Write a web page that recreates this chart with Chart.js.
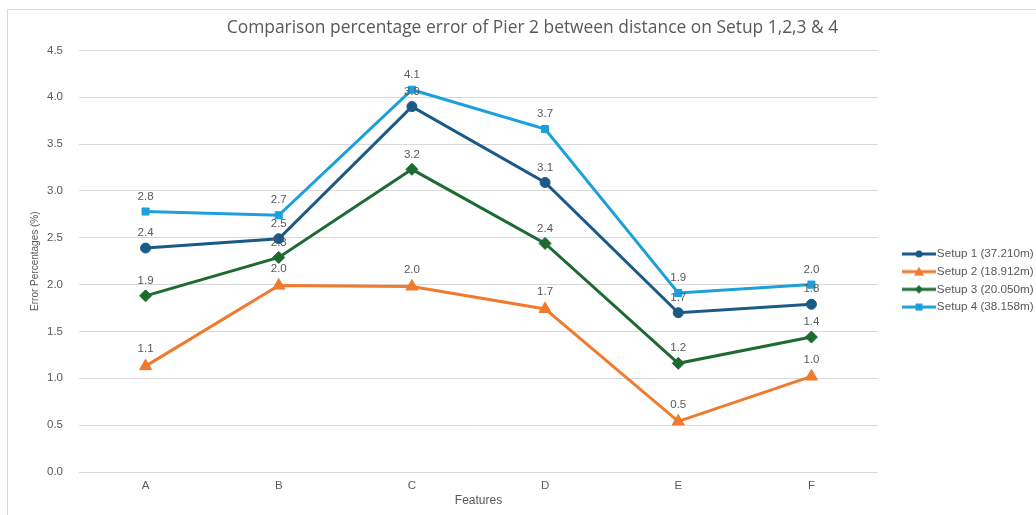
<!DOCTYPE html>
<html>
<head>
<meta charset="utf-8">
<script src="https://cdn.jsdelivr.net/npm/chart.js@4.4.1/dist/chart.umd.min.js"></script>
<style>
  html, body { margin: 0; padding: 0; background: #fff; }
  #wrap { position: absolute; left: 0; top: 0; width: 1036px; height: 515px; }
  #frame { position: absolute; left: 7px; top: 9px; width: 1040px; height: 520px; border: 1px solid #d9d9d9; box-sizing: border-box; }
</style>
</head>
<body>
<div id="wrap">
  <div id="frame"></div>
  <canvas id="myChart" width="1036" height="515"></canvas>
</div>
<script>
const features = ['A', 'B', 'C', 'D', 'E', 'F'];

const setupNames = ['Setup 1 (37.210m)', 'Setup 2 (18.912m)', 'Setup 3 (20.050m)', 'Setup 4 (38.158m)'];

const setup1 = [2.39, 2.49, 3.90, 3.09, 1.70, 1.79];
const setup2 = [1.13, 1.99, 1.98, 1.74, 0.54, 1.02];
const setup3 = [1.88, 2.29, 3.23, 2.44, 1.16, 1.44];
const setup4 = [2.78, 2.74, 4.08, 3.66, 1.91, 2.00];

const yTicks = [0, 0.5, 1, 1.5, 2, 2.5, 3, 3.5, 4, 4.5];

const colors = ['#1b5a86', '#f07a2e', '#1e6b32', '#1ba0dc'];
const markers = ['circle', 'triangle', 'rectRot', 'rect'];
const markerSizes = [5, 7, 6, 5];

const FONT = '"Liberation Sans", Arial, sans-serif';


// legend symbol: line with the marker on it (left part of the canvas is empty on purpose)
function legendSymbol(color, style, size) {
    const c = document.createElement('canvas');
    c.width = 59;
    c.height = 14;
    const g = c.getContext('2d');
    g.strokeStyle = color;
    g.fillStyle = color;
    g.lineWidth = 3;
    g.beginPath();
    g.moveTo(24, 7);
    g.lineTo(58, 7);
    g.stroke();
    const cx = 41;
    const r = size * 0.7;
    g.beginPath();
    if (style === 'circle') {
        g.arc(cx, 7, r, 0, Math.PI * 2);
    } else if (style === 'triangle') {
        g.moveTo(cx, 7 - r);
        g.lineTo(cx + r, 7 + r * 0.8);
        g.lineTo(cx - r, 7 + r * 0.8);
        g.closePath();
    } else if (style === 'rectRot') {
        g.moveTo(cx, 7 - r);
        g.lineTo(cx + r, 7);
        g.lineTo(cx, 7 + r);
        g.lineTo(cx - r, 7);
        g.closePath();
    } else {
        g.rect(cx - r, 7 - r, r * 2, r * 2);
    }
    g.fill();
    return c;
}

// value labels above each point
const valueLabels = {
    id: 'valueLabels',
    afterDatasetsDraw(chart) {
        const ctx = chart.ctx;
        ctx.save();
        ctx.font = '11.5px ' + FONT;
        ctx.fillStyle = '#595959';
        ctx.textAlign = 'center';
        ctx.textBaseline = 'middle';
        chart.data.datasets.forEach((ds, i) => {
            const meta = chart.getDatasetMeta(i);
            const lift = ds.pointStyle === 'triangle' ? 17 : 15;
            meta.data.forEach((pt, j) => {
                ctx.fillText(ds.data[j].toFixed(1), pt.x, pt.y - lift);
            });
        });
        ctx.restore();
    }
};

const allSeries = [setup1, setup2, setup3, setup4];

const data = {
    labels: features,
    datasets: allSeries.map((vals, i) => ({
        label: setupNames[i],
        data: vals,
        borderColor: colors[i],
        backgroundColor: colors[i],
        borderWidth: 3,
        pointStyle: markers[i],
        pointRadius: markerSizes[i],
        pointHoverRadius: markerSizes[i],
        pointBorderWidth: 1,
        tension: 0
    }))
};

const config = {
    type: 'line',
    data: data,
    options: {
        responsive: false,
        animation: false,
        layout: {
            padding: { left: 29, right: 0, top: 0, bottom: 6 }
        },
        plugins: {
            title: {
                display: true,
                text: 'Comparison percentage error of Pier 2 between distance on Setup 1,2,3 & 4',
                color: '#595959',
                font: { family: '"Open Sans", sans-serif', size: 17.4, weight: 'normal' },
                padding: { top: 17.5, bottom: 12 }
            },
            legend: {
                position: 'right',
                align: 'center',
                maxWidth: 158,
                title: {
                    display: true,
                    text: '',
                    font: { size: 10 },
                    padding: { top: 40, bottom: 0 }
                },
                labels: {
                    usePointStyle: true,
                    pointStyleWidth: 47,
                    padding: 6,
                    color: '#595959',
                    font: { family: FONT, size: 11.7 },
                    generateLabels(chart) {
                        const items = Chart.defaults.plugins.legend.labels.generateLabels(chart);
                        items.forEach((item, i) => {
                            item.pointStyle = legendSymbol(colors[i], markers[i], markerSizes[i]);
                        });
                        return items;
                    }
                }
            },
            tooltip: { enabled: false }
        },
        scales: {
            x: {
                offset: true,
                grid: { display: false, drawTicks: false },
                border: { display: false },
                ticks: {
                    color: '#595959',
                    font: { family: FONT, size: 11.5 },
                    padding: 7
                },
                title: {
                    display: true,
                    text: 'Features',
                    color: '#595959',
                    font: { family: FONT, size: 12 },
                    padding: { top: -6, bottom: 0.8 }
                }
            },
            y: {
                min: 0,
                max: 4.5,
                afterBuildTicks(axis) {
                    axis.ticks = yTicks.map(v => ({ value: v }));
                },
                grid: { color: '#d9d9d9', drawTicks: false },
                border: { display: false },
                ticks: {
                    color: '#595959',
                    font: { family: FONT, size: 11.5 },
                    padding: 16,
                    callback: (v) => Number(v).toFixed(1)
                },
                title: {
                    display: true,
                    text: 'Error Percentages (%)',
                    color: '#595959',
                    font: { family: FONT, size: 10 },
                    padding: { top: 0, bottom: -10 }
                }
            }
        }
    },
    plugins: [valueLabels]
};

const ctx = document.getElementById('myChart').getContext('2d');
new Chart(ctx, config);
</script>
</body>
</html>
